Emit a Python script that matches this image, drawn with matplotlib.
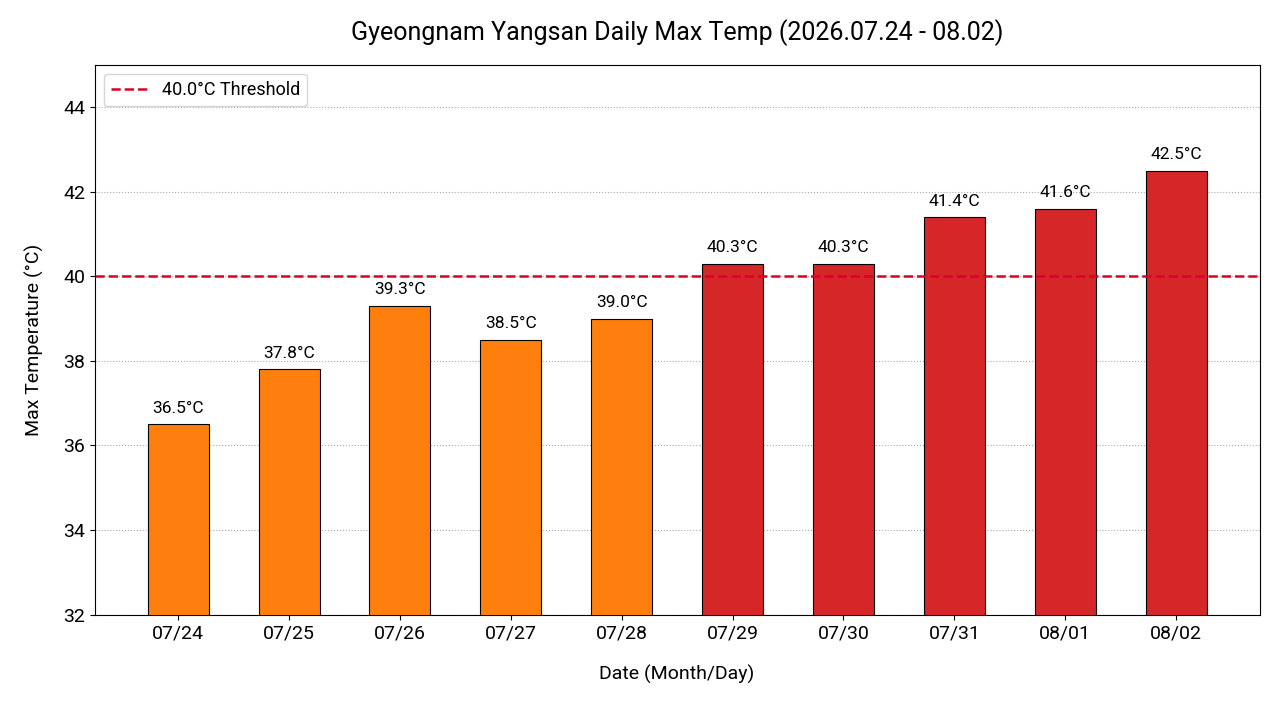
import numpy as np
import matplotlib
matplotlib.use('Agg')
import matplotlib.pyplot as plt

plt.rcParams['font.family'] = ['Roboto', 'DejaVu Sans']

dates = ['07/24', '07/25', '07/26', '07/27', '07/28',
         '07/29', '07/30', '07/31', '08/01', '08/02']
temps = [36.5, 37.8, 39.3, 38.5, 39.0, 40.3, 40.3, 41.4, 41.6, 42.5]
threshold = 40.0

colors = ['#d62728' if t > threshold else '#ff7f0e' for t in temps]

fig, ax = plt.subplots(figsize=(12.8, 7.04), dpi=100)
x = np.arange(len(dates))
bars = ax.bar(x, temps, width=0.55, color=colors, edgecolor='black', linewidth=0.8, zorder=3)

for b, t in zip(bars, temps):
    ax.text(b.get_x() + b.get_width() / 2, t + 0.2, f'{t:.1f}°C',
            ha='center', va='bottom', fontsize=12.5)

ax.axhline(threshold, color='#d9002b', linestyle='--', linewidth=1.8,
           label=f'{threshold:.1f}°C Threshold', zorder=4)

ax.set_ylim(32, 45)
ax.set_xticks(x)
ax.set_xticklabels(dates, fontsize=14)
ax.tick_params(axis='y', labelsize=14)
ax.yaxis.grid(True, linestyle=':', color='#aaaaaa', linewidth=0.8, zorder=0)
ax.set_axisbelow(True)

ax.set_title('Gyeongnam Yangsan Daily Max Temp (2026.07.24 - 08.02)', fontsize=18, pad=18)
ax.set_xlabel('Date (Month/Day)', fontsize=14, labelpad=16)
ax.set_ylabel('Max Temperature (°C)', fontsize=14, labelpad=14)
ax.legend(loc='upper left', fontsize=13)

fig.subplots_adjust(left=0.074, right=0.984, top=0.908, bottom=0.127)
fig.savefig('out.png', dpi=100)
